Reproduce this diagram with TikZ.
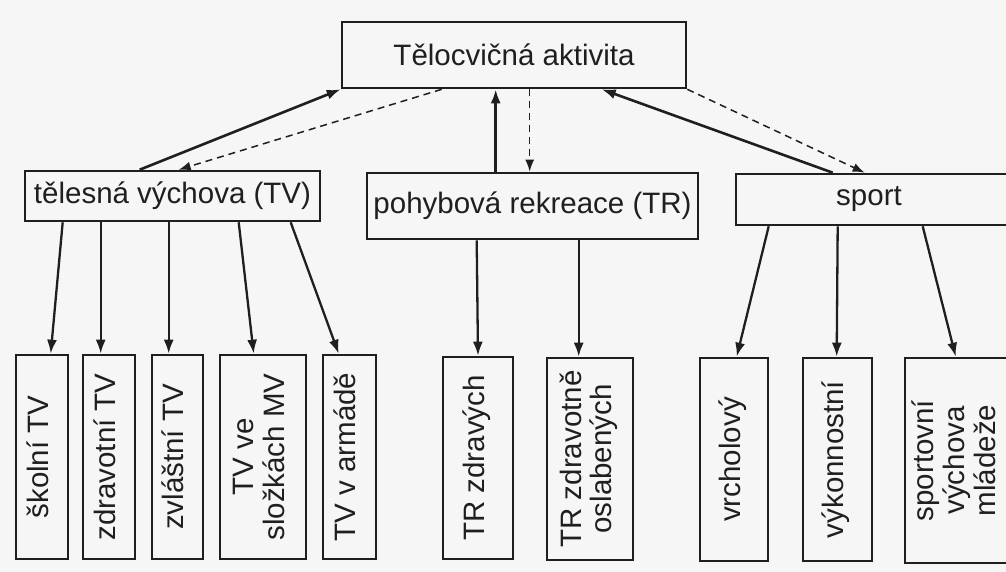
\documentclass[tikz,border=0pt]{standalone}
\usepackage{fontspec}
\setmainfont{Liberation Sans}
\usetikzlibrary{arrows.meta,calc}
\definecolor{ink}{rgb}{0.12,0.12,0.12}
\definecolor{paper}{rgb}{0.965,0.965,0.965}
\tikzset{
  box/.style={draw=ink, line width=2.6pt, fill=paper, inner sep=0pt,
    font=\fontsize{29.5}{29.5}\selectfont, text=ink},
  solidarrow/.style={draw=ink, line width=2.6pt, -{Latex[length=14pt,width=10pt]}},
  dasharrow/.style={draw=ink, line width=1.5pt, dash pattern=on 7pt off 5pt,
    -{Latex[length=12pt,width=9pt]}},
  downarrow/.style={draw=ink, line width=2.3pt, -{Latex[length=14pt,width=10pt]}}
}
\newcommand{\vtext}[1]{\rotatebox{90}{\begin{tabular}{@{}c@{}}#1\end{tabular}}}
\begin{document}
\begin{tikzpicture}[x=1pt,y=-1pt]
\fill[paper] (0,0) rectangle (1006,572);
\useasboundingbox (0,0) rectangle (1006,572);

% top level
\node[box, minimum width=344pt, minimum height=66pt] (top) at (514,55) {Tělocvičná aktivita};
% middle level
\node[box, minimum width=295pt, minimum height=50pt] (tv) at (172.5,196) {tělesná výchova (TV)};
\node[box, minimum width=331pt, minimum height=66pt] (tr) at (532.5,206) {pohybová rekreace (TR)};
\node[box, minimum width=276pt, minimum height=51pt] (sport) at (874,199.5) {\hspace*{-10pt}sport};

% bottom level
\node[box, minimum width=52pt, minimum height=204pt] (skolni) at (42,457) {\vtext{školní TV}};
\node[box, minimum width=52pt, minimum height=204pt] (zdrav) at (109,457) {\vtext{zdravotní TV}};
\node[box, minimum width=51pt, minimum height=204pt] (zvlast) at (177.5,457) {\vtext{zvláštní TV}};
\node[box, minimum width=86pt, minimum height=204pt] (mv) at (263,457) {\vtext{TV ve\\složkách MV}};
\node[box, minimum width=53pt, minimum height=204pt] (armada) at (349.5,457) {\vtext{TV v armádě}};
\node[box, minimum width=70pt, minimum height=202pt] (trzdr) at (478,458) {\vtext{TR zdravých}};
\node[box, minimum width=86pt, minimum height=202pt] (troslab) at (590,459) {\vtext{TR zdravotně\\oslabených}};
\node[box, minimum width=68pt, minimum height=203pt] (vrchol) at (734,459.5) {\vtext{vrcholový}};
\node[box, minimum width=69pt, minimum height=203pt] (vykon) at (837.5,459.5) {\vtext{výkonnostní}};
\node[box, minimum width=106pt, minimum height=205pt] (mlad) at (958,460.5) {\vtext{sportovní\\výchova\\mládeže}};

% upward / downward links with top
\draw[solidarrow] ([xshift=116pt]tv.north west) -- (top.south west);
\draw[dasharrow] ([xshift=101pt]top.south west) -- ([xshift=155pt]tv.north west);
\draw[solidarrow] ([xshift=130pt]tr.north west) -- ([xshift=155pt]top.south west);
\draw[dasharrow] ([xshift=189pt]top.south west) -- ([xshift=164pt]tr.north west);
\draw[solidarrow] ([xshift=98pt]sport.north west) -- ([xshift=261pt]top.south west);
\draw[dasharrow] (top.south east) -- ([xshift=130pt]sport.north west);

% TV children
\draw[downarrow] ([xshift=39pt]tv.south west) -- ([xshift=36pt]skolni.north west);
\draw[downarrow] ([xshift=77pt]tv.south west) -- ([xshift=19pt]zdrav.north west);
\draw[downarrow] ([xshift=145pt]tv.south west) -- ([xshift=18pt]zvlast.north west);
\draw[downarrow] ([xshift=215pt]tv.south west) -- ([xshift=35pt]mv.north west);
\draw[downarrow] ([xshift=267pt]tv.south west) -- ([xshift=17pt]armada.north west);
% TR children
\draw[downarrow] ([xshift=111pt]tr.south west) -- (trzdr.north);
\draw[downarrow] ([xshift=213pt]tr.south west) -- ([xshift=33pt]troslab.north west);
% sport children
\draw[downarrow] ([xshift=34pt]sport.south west) -- ([xshift=38pt]vrchol.north west);
\draw[downarrow] ([xshift=103pt]sport.south west) -- ([xshift=35pt]vykon.north west);
\draw[downarrow] ([xshift=188pt]sport.south west) -- ([xshift=52pt]mlad.north west);
\end{tikzpicture}
\end{document}
